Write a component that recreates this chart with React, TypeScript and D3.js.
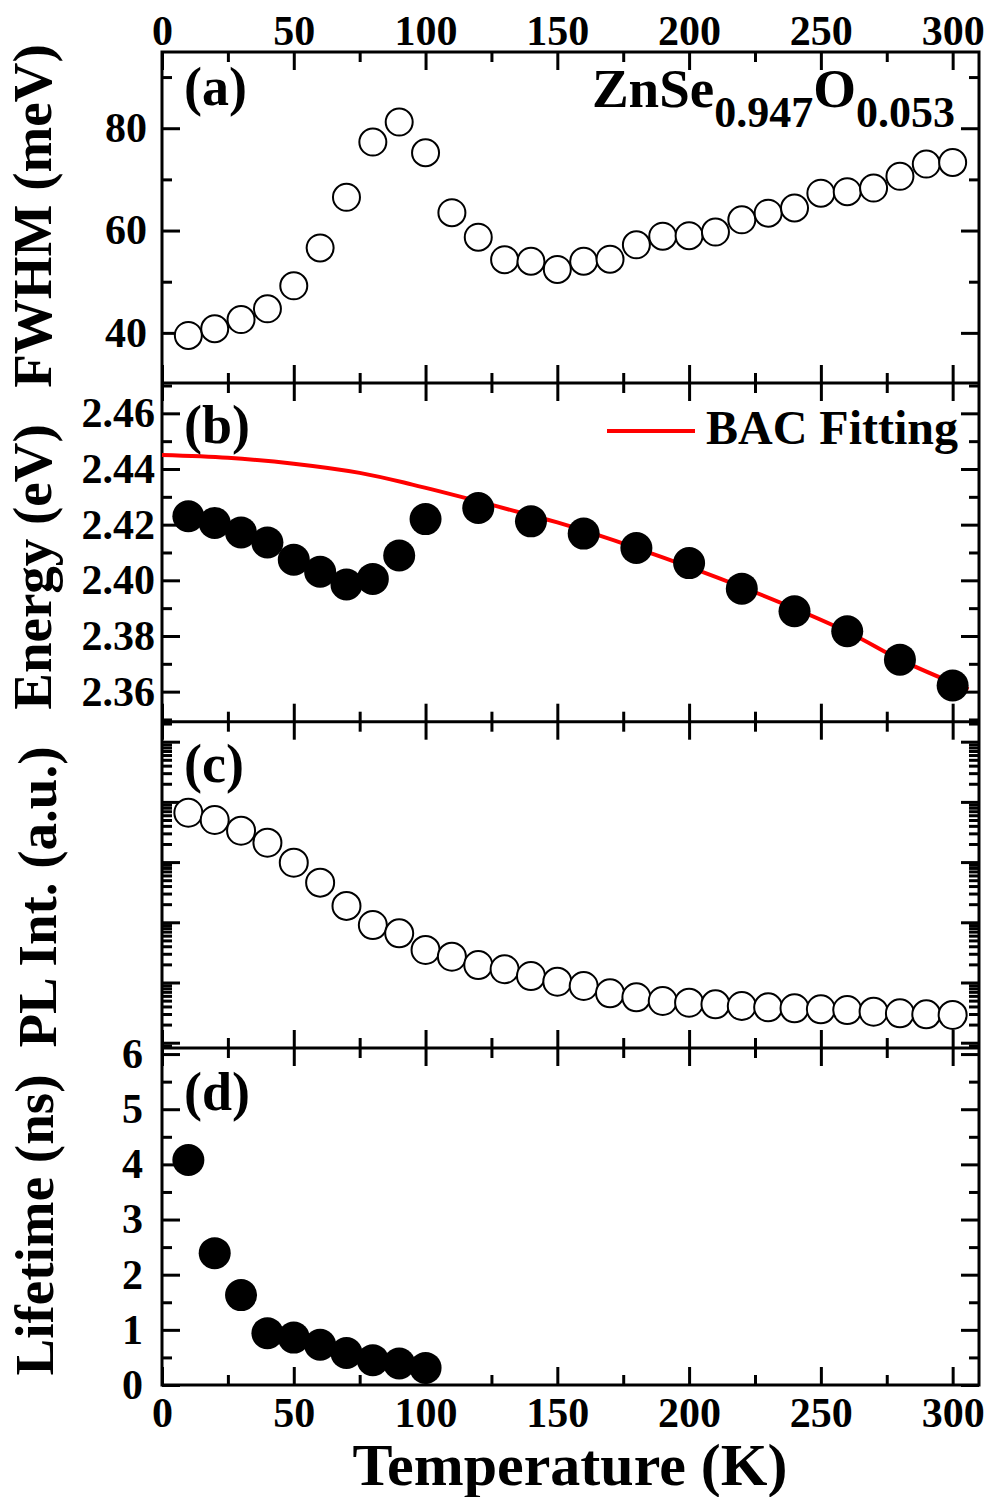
import React, { useEffect, useRef } from "react";
import * as d3 from "d3";

// temperature series (K)
const temperature = [
  10, 20, 30, 40, 50, 60, 70, 80, 90, 100, 110, 120, 130, 140, 150,
  160, 170, 180, 190, 200, 210, 220, 230, 240, 250, 260, 270, 280, 290, 300,
];

// (a) FWHM (meV)
const fwhm = [
  39.5, 40.8, 42.6, 44.7, 49.2, 56.6, 66.5, 77.3, 81.2, 75.2, 63.5, 58.7, 54.3, 54.0, 52.4,
  54.0, 54.4, 57.2, 58.9, 59.0, 59.7, 62.1, 63.4, 64.4, 67.3, 67.6, 68.3, 70.6, 73.0, 73.3,
];

// (b) PL peak energy (eV)
const energyTemp = [10, 20, 30, 40, 50, 60, 70, 80, 90, 100, 120, 140, 160, 180, 200, 220, 240, 260, 280, 300];
const energy = [
  2.423, 2.4206, 2.4172, 2.4136, 2.4074, 2.4031, 2.3985, 2.4005, 2.4089, 2.422,
  2.426, 2.4212, 2.4168, 2.4116, 2.4062, 2.397, 2.3889, 2.3817, 2.3715, 2.3622,
];

// BAC fitting curve
const bacTemp = [0, 25, 50, 75, 95, 120, 140, 150, 180, 220, 260, 280, 306];
const bacEnergy = [2.445, 2.444, 2.4419, 2.4386, 2.4344, 2.4284, 2.4233, 2.4208, 2.4116, 2.3976, 2.3815, 2.3715, 2.3608];

// (c) integrated PL intensity (a.u., log)
const plIntensity = [
  66000, 50000, 33200, 21000, 9770, 4550, 1870, 900, 656, 347, 268, 195, 166, 128, 103,
  87.5, 66.2, 56.8, 49.3, 46.2, 43.4, 40.7, 38.7, 37.3, 35.9, 34.9, 32.7, 30.8, 29.6, 28.9,
];

// (d) lifetime (ns)
const lifetimeTemp = [10, 20, 30, 40, 50, 60, 70, 80, 90, 100];
const lifetime = [4.08, 2.39, 1.63, 0.94, 0.86, 0.73, 0.58, 0.45, 0.39, 0.31];

// ticks
const xMajor = [0, 50, 100, 150, 200, 250, 300];
const xMinor = [25, 75, 125, 175, 225, 275];
const fwhmMajor = [40, 60, 80];
const fwhmMinor = [50, 70, 90];
const energyMajor = [2.36, 2.38, 2.4, 2.42, 2.44, 2.46];
const energyMinor = [2.35, 2.37, 2.39, 2.41, 2.43, 2.45, 2.47];
const lifetimeMajor = [0, 1, 2, 3, 4, 5, 6];
const lifetimeMinor = [0.5, 1.5, 2.5, 3.5, 4.5, 5.5];

const FONT = '"Liberation Serif", "Times New Roman", Times, "Nimbus Roman", serif';

const App = () => {
  const ref = useRef(null);

  useEffect(() => {
    const svg = d3.select(ref.current);
    svg.selectAll("*").remove();

    const left = 162;
    const right = 979;
    const x = d3.scaleLinear().domain([0, 310]).range([left, right]);

    // panel bounds
    const pa = [52, 383];
    const pb = [383, 721.7];
    const pc = [721.7, 1048];
    const pd = [1048, 1385];

    const ya = d3.scaleLinear().domain([30.2, 94.9]).range([pa[1], pa[0]]);
    const yb = d3.scaleLinear().domain([2.3492, 2.4709]).range([pb[1], pb[0]]);
    const yc = d3.scaleLog().domain([Math.pow(10, 0.912), Math.pow(10, 6.332)]).range([pc[1], pc[0]]);
    const yd = d3.scaleLinear().domain([0, 6.11]).range([pd[1], pd[0]]);

    const style = (g) => {
      g.select(".domain").remove();
      g.selectAll("line").attr("stroke", "#000").attr("stroke-width", 3);
      g.attr("font-family", null).attr("font-size", null)
        .style("font-family", FONT).style("font-size", "42px").style("font-weight", "bold");
      g.selectAll("text").attr("fill", "#000");
    };
    const blank = () => "";

    // x axes for each panel (ticks inward top and bottom)
    const addXAxes = (top, bottom, topLabels, bottomLabels) => {
      svg.append("g").attr("transform", `translate(0,${top})`)
        .call(d3.axisTop(x).tickValues(xMajor).tickSize(-18).tickSizeOuter(0).tickPadding(7)
          .tickFormat(topLabels ? d3.format("d") : blank))
        .call(style);
      svg.append("g").attr("transform", `translate(0,${top})`)
        .call(d3.axisTop(x).tickValues(xMinor).tickSize(-10).tickSizeOuter(0).tickFormat(blank))
        .call(style);
      svg.append("g").attr("transform", `translate(0,${bottom})`)
        .call(d3.axisBottom(x).tickValues(xMajor).tickSize(-18).tickSizeOuter(0).tickPadding(12)
          .tickFormat(bottomLabels ? d3.format("d") : blank))
        .call(style);
      svg.append("g").attr("transform", `translate(0,${bottom})`)
        .call(d3.axisBottom(x).tickValues(xMinor).tickSize(-10).tickSizeOuter(0).tickFormat(blank))
        .call(style);
    };

    // y axes (left with labels, right mirrored)
    const addYAxes = (y, major, minor, fmt, pad) => {
      svg.append("g").attr("transform", `translate(${left},0)`)
        .call(d3.axisLeft(y).tickValues(major).tickSize(-18).tickSizeOuter(0).tickPadding(pad).tickFormat(fmt))
        .call(style);
      svg.append("g").attr("transform", `translate(${left},0)`)
        .call(d3.axisLeft(y).tickValues(minor).tickSize(-10).tickSizeOuter(0).tickFormat(blank))
        .call(style);
      svg.append("g").attr("transform", `translate(${right},0)`)
        .call(d3.axisRight(y).tickValues(major).tickSize(-18).tickSizeOuter(0).tickFormat(blank))
        .call(style);
      svg.append("g").attr("transform", `translate(${right},0)`)
        .call(d3.axisRight(y).tickValues(minor).tickSize(-10).tickSizeOuter(0).tickFormat(blank))
        .call(style);
    };

    addXAxes(pa[0], pa[1], true, false);
    addXAxes(pb[0], pb[1], false, false);
    addXAxes(pc[0], pc[1], false, false);
    addXAxes(pd[0], pd[1], false, true);

    addYAxes(ya, fwhmMajor, fwhmMinor, d3.format("d"), 15);
    addYAxes(yb, energyMajor, energyMinor, d3.format(".2f"), 7);
    const logTicks = yc.ticks();
    const logMajor = logTicks.filter((v) => Math.abs(Math.log10(v) - Math.round(Math.log10(v))) < 1e-9);
    const logMinor = logTicks.filter((v) => !logMajor.includes(v));
    addYAxes(yc, logMajor, logMinor, blank, 7);
    addYAxes(yd, lifetimeMajor, lifetimeMinor, d3.format("d"), 19);

    // frame
    svg.append("rect")
      .attr("x", left).attr("y", pa[0])
      .attr("width", right - left).attr("height", pd[1] - pa[0])
      .attr("fill", "none").attr("stroke", "#000").attr("stroke-width", 3);
    [pb[0], pc[0], pd[0]].forEach((yy) => {
      svg.append("line").attr("x1", left).attr("x2", right).attr("y1", yy).attr("y2", yy)
        .attr("stroke", "#000").attr("stroke-width", 3);
    });

    // (a) open circles
    svg.append("g").selectAll("circle")
      .data(temperature.map((t, i) => [t, fwhm[i]]))
      .enter().append("circle")
      .attr("cx", (d) => x(d[0])).attr("cy", (d) => ya(d[1])).attr("r", 13.5)
      .attr("fill", "#fff").attr("stroke", "#000").attr("stroke-width", 2);

    // (b) BAC line + filled circles
    const line = d3.line().x((d) => x(d[0])).y((d) => yb(d[1])).curve(d3.curveCatmullRom);
    svg.append("path")
      .datum(bacTemp.map((t, i) => [t, bacEnergy[i]]))
      .attr("d", line).attr("fill", "none").attr("stroke", "#ff0000").attr("stroke-width", 4);
    svg.append("g").selectAll("circle")
      .data(energyTemp.map((t, i) => [t, energy[i]]))
      .enter().append("circle")
      .attr("cx", (d) => x(d[0])).attr("cy", (d) => yb(d[1])).attr("r", 16).attr("fill", "#000");

    // (c) open circles, log scale
    svg.append("g").selectAll("circle")
      .data(temperature.map((t, i) => [t, plIntensity[i]]))
      .enter().append("circle")
      .attr("cx", (d) => x(d[0])).attr("cy", (d) => yc(d[1])).attr("r", 14)
      .attr("fill", "#fff").attr("stroke", "#000").attr("stroke-width", 2);

    // (d) filled circles
    svg.append("g").selectAll("circle")
      .data(lifetimeTemp.map((t, i) => [t, lifetime[i]]))
      .enter().append("circle")
      .attr("cx", (d) => x(d[0])).attr("cy", (d) => yd(d[1])).attr("r", 16).attr("fill", "#000");

    // panel letters
    const txt = svg.append("g").style("font-family", FONT).style("font-weight", "bold").attr("fill", "#000");
    [["(a)", 105], ["(b)", 443], ["(c)", 782], ["(d)", 1110]].forEach(([s, yy]) => {
      txt.append("text").attr("x", 184).attr("y", yy).style("font-size", "54px").text(s);
    });

    // compound label
    const comp = txt.append("text").attr("x", 955).attr("y", 107).attr("text-anchor", "end").style("font-size", "55px");
    comp.append("tspan").text("ZnSe");
    comp.append("tspan").style("font-size", "44px").attr("dy", 20).text("0.947");
    comp.append("tspan").attr("dy", -20).text("O");
    comp.append("tspan").style("font-size", "44px").attr("dy", 20).text("0.053");

    // legend
    svg.append("line").attr("x1", 607).attr("x2", 695).attr("y1", 431).attr("y2", 431)
      .attr("stroke", "#ff0000").attr("stroke-width", 4);
    txt.append("text").attr("x", 706).attr("y", 444).style("font-size", "48px").text("BAC Fitting");

    // axis titles
    [["FWHM (meV)", 51, 216], ["Energy (eV)", 51, 567], ["PL Int. (a.u.)", 56, 897], ["Lifetime (ns)", 53, 1225]]
      .forEach(([s, tx, ty]) => {
        txt.append("text").attr("transform", `translate(${tx},${ty}) rotate(-90)`)
          .attr("text-anchor", "middle").style("font-size", "55px").text(s);
      });
    txt.append("text").attr("x", 570).attr("y", 1485).attr("text-anchor", "middle")
      .style("font-size", "60px").text("Temperature (K)");
  }, []);

  return (
    <svg
      ref={ref}
      width={991}
      height={1497}
      style={{ position: "absolute", left: 0, top: 0, background: "#fff" }}
    />
  );
};

export default App;
